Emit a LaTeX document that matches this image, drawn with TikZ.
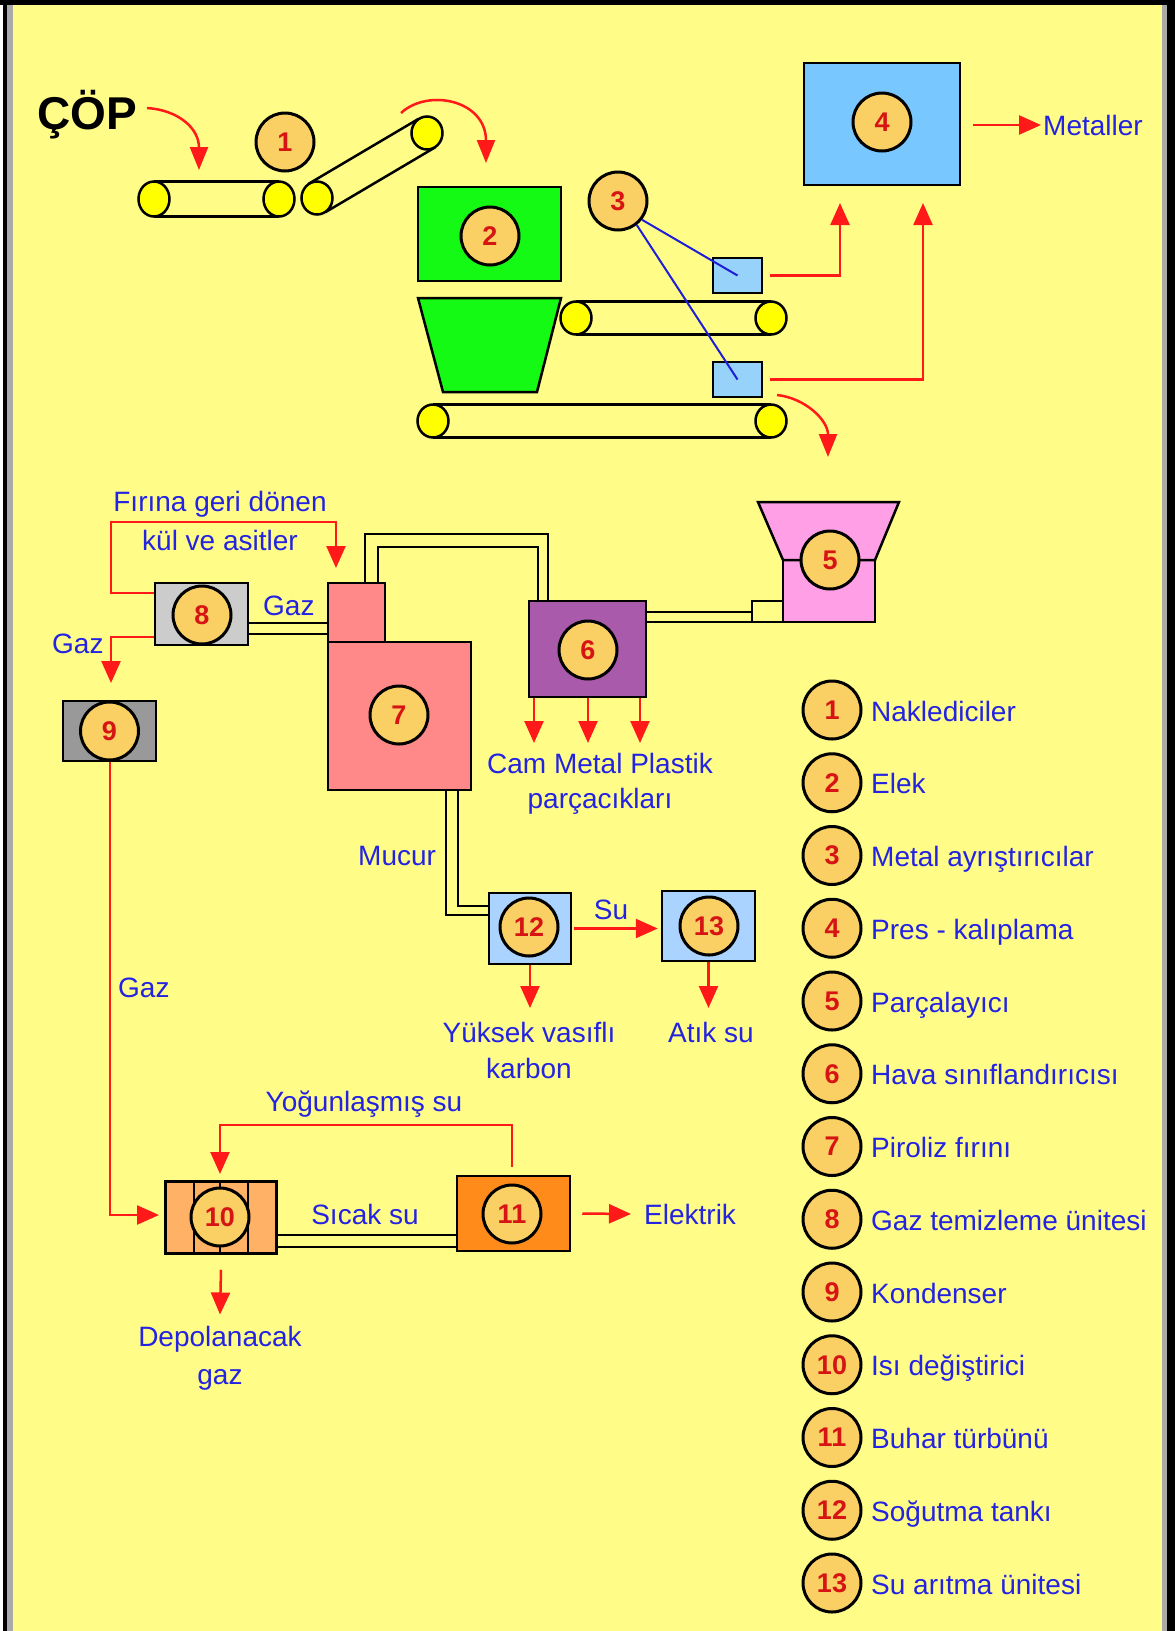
\documentclass[tikz,border=0pt]{standalone}
\usepackage{fontspec}
\setmainfont{Liberation Sans}
\usetikzlibrary{arrows.meta,calc}
\definecolor{bgc}{RGB}{255,253,136}
\definecolor{numfill}{RGB}{250,208,100}
\definecolor{numred}{RGB}{215,20,20}
\definecolor{txtblue}{RGB}{35,35,225}
\definecolor{arrred}{RGB}{255,25,25}
\definecolor{linkblue}{RGB}{30,30,215}
\definecolor{green2}{RGB}{20,250,20}
\definecolor{blue4}{RGB}{120,200,255}
\definecolor{blueA}{RGB}{150,210,250}
\definecolor{pink5}{RGB}{255,160,230}
\definecolor{purple6}{RGB}{170,90,170}
\definecolor{pink7}{RGB}{255,136,136}
\definecolor{gray8}{RGB}{204,204,204}
\definecolor{gray9}{RGB}{153,153,153}
\definecolor{orange10}{RGB}{255,178,102}
\definecolor{orange11}{RGB}{255,140,26}
\definecolor{blue12}{RGB}{170,212,255}
\definecolor{rollery}{RGB}{255,255,0}
\definecolor{framegray}{RGB}{170,170,170}
\begin{document}
\begin{tikzpicture}[x=1pt,y=-1pt,
  numc/.style={circle,draw=black,line width=3pt,fill=numfill,minimum size=58pt,inner sep=0pt,text=numred,font=\fontsize{27}{27}\selectfont\bfseries},
  unitbox/.style={draw=black,line width=2.5pt,inner sep=0pt},
  lbl/.style={text=txtblue,font=\fontsize{28}{34}\selectfont,inner sep=0pt},
  flow/.style={draw=arrred,line width=2.5pt,-{Triangle[width=19pt,length=22pt]}},
  curvy/.style={draw=arrred,line width=2.5pt,-{Triangle[width=18pt,length=23pt]}},
  pipeline/.style={draw=black,line width=2.5pt},
  belt/.style={draw=black,line width=2.5pt},
  roller/.style={draw=black,line width=2.5pt,fill=rollery},
  probe/.style={draw=linkblue,line width=2pt}
]
\useasboundingbox (0,0) rectangle (1175,1631);
\fill[bgc] (0,0) rectangle (1175,1631);
% frame
\fill[white] (0,0) rectangle (3,1631);
\fill[black] (3,0) rectangle (7,1631);
\fill[framegray] (7,5) rectangle (13,1631);
\fill[black] (0,0) rectangle (1175,5);
\fill[framegray] (1162,5) rectangle (1167,1631);
\fill[black] (1167,0) rectangle (1175,1631);

% ---------- top: garbage input ----------
\node[font=\fontsize{46}{46}\selectfont\bfseries,anchor=base west,inner sep=0pt] (cop) at (37,129) {ÇÖP};
\coordinate (cA) at (147,108);
\coordinate (cB) at (199,170);
\draw[curvy] (cA) .. controls (178,110) and (199,128) .. (cB);

% conveyors
\foreach \ax/\ay/\bx/\by/\o in {154/199/279/199/17.5, 317/198/427/133/16.5, 576/318/771/318/16.5, 433/421/771/421/16.5} {
  \coordinate (A) at (\ax,\ay);
  \coordinate (B) at (\bx,\by);
  \draw[belt] ($(A)!\o pt!90:(B)$) -- ($(B)!\o pt!-90:(A)$);
  \draw[belt] ($(A)!\o pt!-90:(B)$) -- ($(B)!\o pt!90:(A)$);
  \filldraw[roller] (A) ellipse [x radius=15.5pt, y radius=\o pt];
  \filldraw[roller] (B) ellipse [x radius=15.5pt, y radius=\o pt];
}
\node[numc] (c1) at (285,142) {1};

\coordinate (dA) at (401,113);
\coordinate (dB) at (486,163);
\draw[curvy] (dA) .. controls (428,88) and (486,100) .. (dB);

% screen 2
\node[unitbox,fill=green2,minimum width=143pt,minimum height=94pt] (b2) at (489.5,234) {};
\node[numc] (c2) at (490,236) {2};
\filldraw[fill=green2,draw=black,line width=2.5pt] (418,298) -- (561,298) -- (537,392) -- (443,392) -- cycle;

% metal separators 3
\node[unitbox,fill=blueA,minimum width=49pt,minimum height=35pt] (bA) at (737.5,275.5) {};
\node[unitbox,fill=blueA,minimum width=49pt,minimum height=35pt] (bB) at (737.5,379.5) {};
\node[numc] (c3) at (618,201) {3};
\draw[probe] (c3.-38) -- (bA.center);
\draw[probe] (c3.-52) -- (bB.center);

% press 4
\node[unitbox,fill=blue4,minimum width=156pt,minimum height=122pt] (b4) at (882,124) {};
\node[numc] (c4) at (882,122) {4};
\node[lbl,anchor=base west] (met) at (1043,135) {Metaller};
\draw[flow] ([xshift=12pt]b4.east |- met.west) -- ([xshift=-2pt]met.west);
\coordinate (t4a) at (840,203);
\coordinate (t4b) at (923,203);
\draw[flow] ([xshift=7pt]bA.east) -| (t4a);
\draw[flow] ([xshift=7pt]bB.east) -| (t4b);

\coordinate (eA) at (777,395);
\coordinate (eB) at (828,457);
\draw[curvy] (eA) .. controls (805,398) and (828,420) .. (eB);

% ---------- middle ----------
\coordinate (p1) at (365,534); \coordinate (p2) at (548,534);
\coordinate (p3) at (378,547); \coordinate (p4) at (538,547);
\coordinate (q1) at (0,623); \coordinate (q2) at (0,634);
\coordinate (r1) at (0,612); \coordinate (r2) at (0,622);
\coordinate (s1) at (446,915); \coordinate (s2) at (458,906);

% shredder 5
\node[unitbox,fill=pink5,minimum width=92pt,minimum height=62pt] (b5) at (829,591) {};
\filldraw[fill=pink5,draw=black,line width=2.5pt] (758,502) -- (899,502) -- (875,560) -- (783,560) -- cycle;
\node[unitbox,minimum width=31pt,minimum height=21pt] (sq5) at (767.5,611.5) {};
\node[numc] (c5) at (830,560) {5};

% air classifier 6
\node[unitbox,fill=purple6,minimum width=117pt,minimum height=96pt] (b6) at (587.5,649) {};
\node[numc] (c6) at (588,650) {6};

% furnace 7
\node[unitbox,fill=pink7,minimum width=57pt,minimum height=59pt] (b7t) at (356.5,612.5) {};
\node[unitbox,fill=pink7,minimum width=143pt,minimum height=148pt] (b7) at (399.5,716) {};
\node[numc] (c7) at (399,715) {7};

% gas cleaning 8, condenser 9
\node[unitbox,fill=gray8,minimum width=93pt,minimum height=62pt] (b8) at (201.5,614) {};
\node[numc] (c8) at (202,615) {8};
\node[unitbox,fill=gray9,minimum width=93pt,minimum height=60pt] (b9) at (109.5,731) {};
\node[numc] (c9) at (109.5,731) {9};

\draw[pipeline] (b7t.north -| p1) -- (p1) -- (p2) -- (b6.north -| p2);
\draw[pipeline] (b7t.north -| p3) -- (p3) -- (p4) -- (b6.north -| p4);
\draw[pipeline] (b8.east |- q1) -- (b7t.west |- q1);
\draw[pipeline] (b8.east |- q2) -- (b7t.west |- q2);
\draw[pipeline] (b6.east |- r1) -- (sq5.west |- r1);
\draw[pipeline] (b6.east |- r2) -- (sq5.west |- r2);

\node[lbl,anchor=base] (fir1) at (220,511) {Fırına geri dönen};
\node[lbl,anchor=base] (fir2) at (220,550) {kül ve asitler};
\node[lbl,anchor=base west] (gaz1) at (263,615) {Gaz};
\node[lbl,anchor=base west] (gaz2) at (52,653) {Gaz};
\node[lbl,anchor=base west] (gaz3) at (118,997) {Gaz};
\node[lbl,anchor=base west] (muc) at (358,865) {Mucur};
\node[lbl,anchor=base] (cmp) at (600,773) {Cam Metal Plastik};
\node[lbl,anchor=base] (parc) at (600,808) {parçacıkları};

\coordinate (f1) at (111,593); \coordinate (f2) at (111,522);
\coordinate (f3) at (336,522); \coordinate (f4) at (336,568);
\draw[flow] (b8.west |- f1) -- (f1) -- (f2) -- (f3) -- (f4);
\coordinate (g1) at (111,637); \coordinate (g2) at (111,683);
\draw[flow] (b8.west |- g1) -- (g1) -- (g2);
\foreach \x in {534,588,640} {
  \coordinate (o) at (\x,743);
  \draw[flow] (b6.south -| o) -- (o);
}

% ---------- lower ----------
\node[unitbox,fill=blue12,minimum width=82pt,minimum height=71pt] (b12) at (530,928.5) {};
\node[numc] (c12) at (529,927) {12};
\node[unitbox,fill=blue12,minimum width=93pt,minimum height=70pt] (b13) at (708.5,926) {};
\node[numc] (c13) at (709,926) {13};
\draw[pipeline] (b7.south -| s1) -- (s1) -- (b12.west |- s1);
\draw[pipeline] (b7.south -| s2) -- (s2) -- (b12.west |- s2);

\node[lbl,anchor=base] (su) at (611,919) {Su};
\draw[flow] ([xshift=2pt]b12.east) -- ([xshift=-3pt]b13.west |- b12.east);
\coordinate (k1) at (530,1008);
\draw[flow] (b12.south) -- (k1);
\draw[flow] (b13.south) -- (b13.south |- k1);
\node[lbl,anchor=base] (yuk) at (529,1042) {Yüksek vasıflı};
\node[lbl,anchor=base] (karb) at (529,1078) {karbon};
\node[lbl,anchor=base] (atik) at (711,1042) {Atık su};

% heat exchanger 10, turbine 11
\node[unitbox,fill=orange10,minimum width=111pt,minimum height=72pt] (b10) at (221,1217.5) {};
\foreach \x in {194,220,248} \draw[line width=2pt] (\x,1181.5) -- (\x,1253.5);
\node[numc] (c10) at (220,1217) {10};
\node[unitbox,fill=orange11,minimum width=113pt,minimum height=75pt] (b11) at (513.5,1213.5) {};
\node[numc] (c11) at (512,1214) {11};
\coordinate (u1) at (0,1235); \coordinate (u2) at (0,1247);
\draw[pipeline] (b10.east |- u1) -- (b11.west |- u1);
\draw[pipeline] (b10.east |- u2) -- (b11.west |- u2);

\coordinate (h1) at (110,1215); \coordinate (h2) at (159,1215);
\draw[flow] (b9.south -| h1) -- (h1) -- (h2);

\node[lbl,anchor=base] (yog) at (364,1111) {Yoğunlaşmış su};
\coordinate (y1) at (512,1125); \coordinate (y2) at (220,1125); \coordinate (y3) at (220,1174);
\draw[flow] ([yshift=8pt]b11.north -| y1) -- (y1) -- (y2) -- (y3);
\node[lbl,anchor=base] (sicak) at (365,1224) {Sıcak su};
\node[lbl,anchor=base west] (elek) at (644,1224) {Elektrik};
\draw[flow] ([xshift=11pt]b11.east) -- ([xshift=-13pt]elek.west);
\node[lbl,anchor=base] (dep) at (220,1346) {Depolanacak};
\node[lbl,anchor=base] (dgaz) at (220,1384) {gaz};
\draw[flow] ([yshift=-15pt]b10.south) -- ([yshift=11pt]dep.north);

% ---------- legend ----------
\foreach \i/\t in {1/Naklediciler, 2/Elek, 3/Metal ayrıştırıcılar, 4/Pres - kalıplama, 5/Parçalayıcı, 6/Hava sınıflandırıcısı, 7/Piroliz fırını, 8/Gaz temizleme ünitesi, 9/Kondenser, 10/Isı değiştirici, 11/Buhar türbünü, 12/Soğutma tankı, 13/Su arıtma ünitesi} {
  \node[numc] (L\i) at (832,{710+72.75*(\i-1)}) {\i};
  \node[lbl,anchor=base west] (T\i) at (871,{721+72.75*(\i-1)}) {\t};
}
\end{tikzpicture}
\end{document}
